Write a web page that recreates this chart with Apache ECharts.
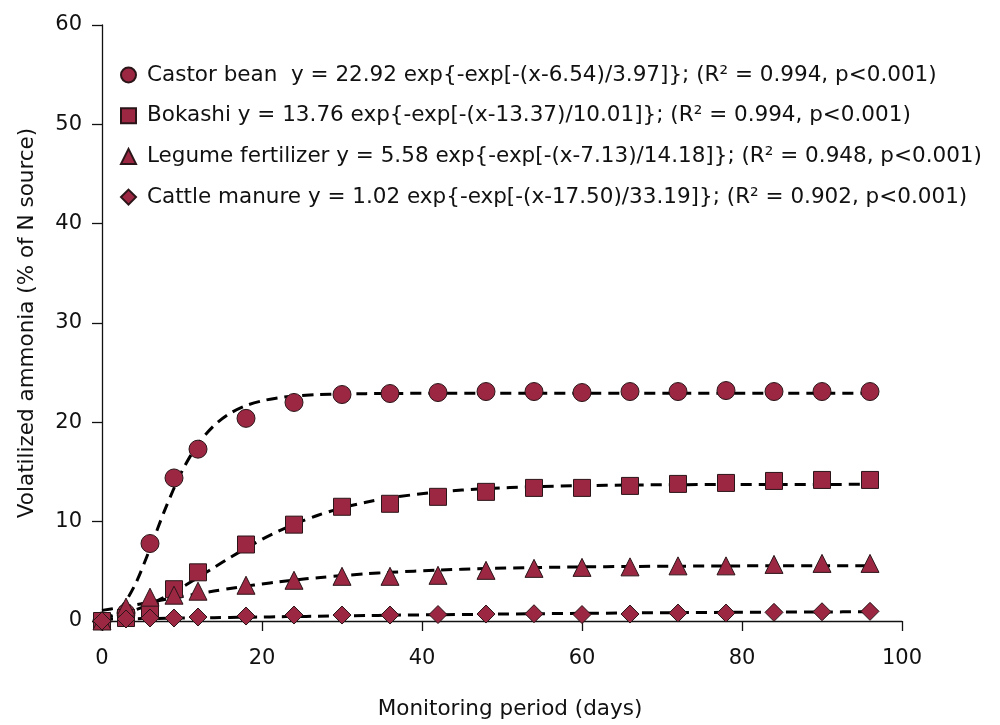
<!DOCTYPE html>
<html>
<head>
<meta charset="utf-8">
<script src="https://cdn.jsdelivr.net/npm/echarts@6/dist/echarts.min.js"></script>
<style>
html,body{margin:0;padding:0;background:#fff;}
#chart{width:1000px;height:725px;}
</style>
</head>
<body>
<div id="chart"></div>
<script>
// Sampling days of observed data
const days = [0, 3, 6, 9, 12, 18, 24, 30, 36, 42, 48, 54, 60, 66, 72, 78, 84, 90, 96];
// Observed values (% of N source)
const castor = [0, 0.8, 7.8, 14.4, 17.3, 20.4, 22.0, 22.8, 22.9, 23.0, 23.1, 23.1, 23.0, 23.1, 23.1, 23.2, 23.1, 23.1, 23.1];
const bokashi = [0, 0.3, 1.0, 3.2, 4.9, 7.7, 9.7, 11.5, 11.8, 12.5, 13.0, 13.4, 13.4, 13.6, 13.8, 13.9, 14.1, 14.2, 14.2];
const legume = [0, 1.4, 2.4, 2.6, 3.0, 3.6, 4.1, 4.5, 4.5, 4.6, 5.1, 5.3, 5.4, 5.45, 5.55, 5.55, 5.7, 5.8, 5.8];
const cattle = [0, 0.2, 0.3, 0.3, 0.4, 0.5, 0.6, 0.6, 0.6, 0.65, 0.7, 0.73, 0.65, 0.7, 0.8, 0.8, 0.87, 0.93, 0.97];

// Fitted curves
const fitDays = [0, 2, 4, 6, 8, 10, 12, 14, 16, 18, 20, 22, 24, 27, 30, 33, 36, 42, 48, 54, 60, 66, 72, 78, 84, 90, 96];
const castorFit = [0.13, 0.99, 3.44, 7.29, 11.47, 15.09, 17.80, 19.67, 20.90, 21.68, 22.16, 22.46, 22.64, 22.79, 22.86, 22.89, 22.91, 22.92, 22.92, 22.92, 22.92, 22.92, 22.92, 22.92, 22.92, 22.92, 22.92];
const bokashiFit = [0.31, 0.61, 1.07, 1.70, 2.49, 3.39, 4.37, 5.38, 6.38, 7.33, 8.22, 9.02, 9.74, 10.65, 11.38, 11.95, 12.40, 12.99, 13.33, 13.52, 13.63, 13.69, 13.72, 13.74, 13.75, 13.75, 13.76];
const legumeFit = [1.07, 1.33, 1.60, 1.89, 2.18, 2.47, 2.74, 3.01, 3.27, 3.51, 3.73, 3.93, 4.12, 4.36, 4.57, 4.75, 4.90, 5.12, 5.28, 5.38, 5.45, 5.49, 5.52, 5.54, 5.56, 5.56, 5.57];
const cattleFit = [0.19, 0.21, 0.23, 0.25, 0.27, 0.29, 0.31, 0.33, 0.36, 0.38, 0.40, 0.43, 0.45, 0.48, 0.51, 0.55, 0.58, 0.63, 0.68, 0.73, 0.77, 0.81, 0.84, 0.87, 0.89, 0.91, 0.93];

const seriesNames = ['Castor bean', 'Bokashi', 'Legume fertilizer', 'Cattle manure'];
const legendLabels = [
  'Castor bean  y = 22.92 exp{-exp[-(x-6.54)/3.97]}; (R\u00B2 = 0.994, p<0.001)',
  'Bokashi y = 13.76 exp{-exp[-(x-13.37)/10.01]}; (R\u00B2 = 0.994, p<0.001)',
  'Legume fertilizer y = 5.58 exp{-exp[-(x-7.13)/14.18]}; (R\u00B2 = 0.948, p<0.001)',
  'Cattle manure y = 1.02 exp{-exp[-(x-17.50)/33.19]}; (R\u00B2 = 0.902, p<0.001)'
];
const symbols = ['circle', 'rect', 'triangle', 'diamond'];
const xTicks = [0, 20, 40, 60, 80, 100];
const yTicks = [0, 10, 20, 30, 40, 50, 60];

const observed = [castor, bokashi, legume, cattle];
const fits = [castorFit, bokashiFit, legumeFit, cattleFit];

const FONT = 'DejaVu Sans';
const markerColor = '#9b2743';

const series = [];
fits.forEach((f, i) => {
  series.push({
    name: seriesNames[i] + ' fit',
    type: 'line',
    data: fitDays.map((d, k) => [d, f[k]]),
    showSymbol: false,
    smooth: 0.3,
    lineStyle: { color: '#000', width: 3, type: [11, 7] },
    z: 2,
    silent: true
  });
});
observed.forEach((vals, i) => {
  series.push({
    name: seriesNames[i],
    type: 'scatter',
    symbol: symbols[i],
    symbolSize: i === 1 ? 17 : 18,
    data: days.map((d, k) => [d, vals[k]]),
    itemStyle: { color: markerColor, borderColor: '#2a1518', borderWidth: 1, opacity: 1 },
    z: 5 + i
  });
});

const chart = echarts.init(document.getElementById('chart'), null, { renderer: 'canvas' });
chart.setOption({
  animation: false,
  backgroundColor: '#fff',
  grid: { left: 102, right: 98, top: 25, bottom: 102, containLabel: false },
  legend: {
    data: seriesNames,
    orient: 'vertical',
    left: 120,
    top: 64,
    padding: 0,
    itemWidth: 15,
    itemHeight: 15,
    itemGap: 18.7,
    formatter: function (name) { return legendLabels[seriesNames.indexOf(name)]; },
    textStyle: { fontFamily: FONT, fontSize: 21.5, color: '#111', lineHeight: 22, padding: [0, 0, 0, 6] }
  },
  xAxis: {
    type: 'value',
    min: xTicks[0],
    max: xTicks[xTicks.length - 1],
    interval: 20,
    name: 'Monitoring period (days)',
    nameLocation: 'middle',
    nameGap: 77,
    nameTextStyle: { fontFamily: FONT, fontSize: 21.5, color: '#111', padding: [0, 0, 0, 16] },
    axisLine: { show: true, lineStyle: { color: '#111', width: 1.3 } },
    axisTick: { show: true, inside: false, length: 10, lineStyle: { color: '#111', width: 1.3 } },
    axisLabel: { fontFamily: FONT, fontSize: 21, color: '#111', margin: 27 },
    splitLine: { show: false }
  },
  yAxis: {
    type: 'value',
    min: yTicks[0],
    max: yTicks[yTicks.length - 1],
    interval: 10,
    name: 'Volatilized ammonia (% of N source)',
    nameLocation: 'middle',
    nameGap: 64,
    nameTextStyle: { fontFamily: FONT, fontSize: 21.5, color: '#111' },
    axisLine: { show: true, lineStyle: { color: '#111', width: 1.3 } },
    axisTick: { show: true, inside: false, length: 10, lineStyle: { color: '#111', width: 1.3 } },
    axisLabel: { fontFamily: FONT, fontSize: 21, color: '#111', margin: 20 },
    splitLine: { show: false }
  },
  series: series
});
</script>
</body>
</html>
